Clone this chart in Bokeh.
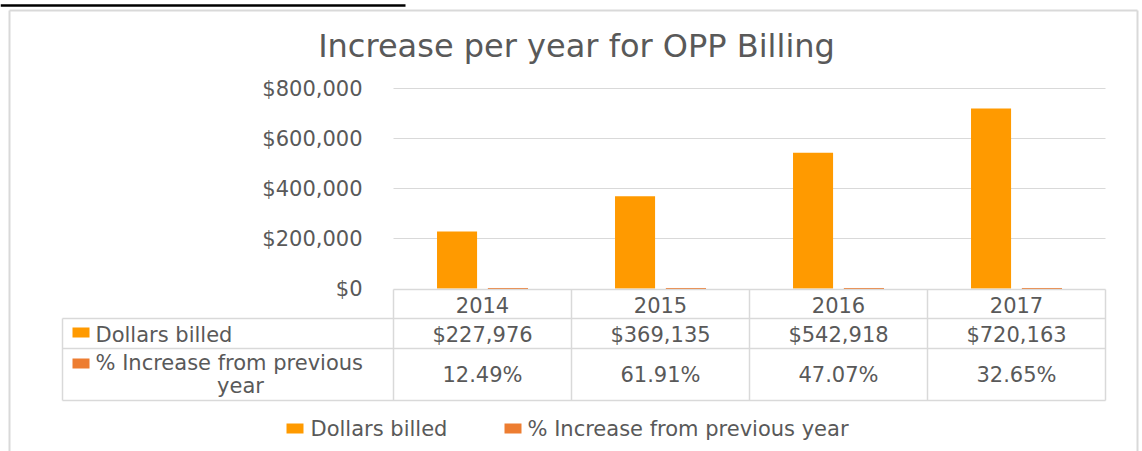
from bokeh.plotting import figure
from bokeh.models import Range1d
from bokeh.core.properties import value
from bokeh.embed import file_html
from bokeh.resources import INLINE

# ---------------- data ----------------
years = ["2014", "2015", "2016", "2017"]
dollars_billed = [227976, 369135, 542918, 720163]
pct_increase = [12.49, 61.91, 47.07, 32.65]
y_ticks = [0, 200000, 400000, 600000, 800000]
y_tick_labels = ["$0", "$200,000", "$400,000", "$600,000", "$800,000"]
series_names = ["Dollars billed", "% Increase from previous year"]
title_text = "Increase per year for OPP Billing"

# ---------------- styles ----------------
FONT = "DejaVu Sans"
TXT = "#595959"
LINE = "#D9D9D9"
C1 = "#FF9A00"
C2 = "#ED7D31"
FS = "21px"

W, H = 1142, 451
X0 = 393          # screen x of category axis start
CW = 178          # px per category
Y0 = 288          # screen y of $0
PXPERD = 1 / 4000  # px per dollar

p = figure(width=W, height=H,
           x_range=Range1d(-X0 / CW, (W - X0) / CW),
           y_range=Range1d(-(H - Y0) / PXPERD, Y0 / PXPERD),
           output_backend="svg", toolbar_location=None,
           x_axis_location=None, y_axis_location=None,
           min_border=0, outline_line_color=None,
           background_fill_color="white", border_fill_color="white")
p.grid.visible = False
p.extra_x_ranges = {"sx": Range1d(0, W)}
p.extra_y_ranges = {"sy": Range1d(H, 0)}

n = len(years)
centers = [i + 0.5 for i in range(n)]
cx_scr = [X0 + c * CW for c in centers]

def sc(x):
    return X0 + x * CW

# heading underline (cut-off document heading above the chart)
p.segment(x0=[0], x1=[405], y0=[5], y1=[5], line_color="black", line_width=2.5,
          x_range_name="sx", y_range_name="sy")

# chart border
p.multi_line(xs=[[9, 9], [9, 1137], [1137, 1137]],
             ys=[[H, 10], [10, 10], [10, H]],
             line_color=LINE, line_width=2,
             x_range_name="sx", y_range_name="sy")

# title
p.text(x=[576], y=[45], text=[title_text], text_font=value(FONT),
       text_font_size="32px", text_color=TXT, text_align="center",
       text_baseline="middle", x_range_name="sx", y_range_name="sy")

# gridlines
grid_ticks = [t for t in y_ticks if t > 0]
p.segment(x0=[0] * len(grid_ticks), x1=[n] * len(grid_ticks),
          y0=grid_ticks, y1=grid_ticks, line_color=LINE, line_width=1)

# y tick labels
p.text(x=[X0 - 31] * len(y_ticks), y=y_ticks, text=y_tick_labels,
       text_font=value(FONT), text_font_size=FS, text_color=TXT,
       text_align="right", text_baseline="middle", x_range_name="sx")

# bars
off = 0.143
bw = 0.225
p.vbar(x=[c - off for c in centers], top=dollars_billed, bottom=0, width=bw,
       fill_color=C1, line_color=None)
p.vbar(x=[c + off for c in centers], top=pct_increase, bottom=0, width=bw,
       fill_color=C2, line_color=C2, line_width=1)

# table lines (screen coordinates)
t_top, r1, r2, t_bot = 289, 318, 348, 400
t_left = 62
x_right = sc(n)
hx = [[sc(0), x_right], [t_left, x_right], [t_left, x_right], [t_left, x_right]]
hy = [[t_top, t_top], [r1, r1], [r2, r2], [t_bot, t_bot]]
vx = [[sc(i), sc(i)] for i in range(n + 1)] + [[t_left, t_left]]
vy = [[t_top, t_bot] for _ in range(n + 1)] + [[r1, t_bot]]
p.multi_line(xs=hx + vx, ys=hy + vy, line_color=LINE, line_width=1.5,
             x_range_name="sx", y_range_name="sy")

# header / values
p.text(x=cx_scr, y=[(t_top + r1) / 2 + 1] * n, text=years, text_font=value(FONT),
       text_font_size=FS, text_color=TXT, text_align="center",
       text_baseline="middle", x_range_name="sx", y_range_name="sy")
p.text(x=cx_scr, y=[(r1 + r2) / 2 + 1] * n, text=[f"${v:,}" for v in dollars_billed],
       text_font=value(FONT), text_font_size=FS, text_color=TXT,
       text_align="center", text_baseline="middle",
       x_range_name="sx", y_range_name="sy")
p.text(x=cx_scr, y=[(r2 + t_bot) / 2] * n, text=[f"{v:.2f}%" for v in pct_increase],
       text_font=value(FONT), text_font_size=FS, text_color=TXT,
       text_align="center", text_baseline="middle",
       x_range_name="sx", y_range_name="sy")

# row labels with keys
p.rect(x=[80.5, 80.5], y=[332, 363], width=17, height=10,
       fill_color=[C1, C2], line_color=None,
       x_range_name="sx", y_range_name="sy")
p.text(x=[95], y=[(r1 + r2) / 2 + 1], text=[series_names[0]],
       text_font=value(FONT), text_font_size=FS, text_color=TXT,
       text_align="left", text_baseline="middle",
       x_range_name="sx", y_range_name="sy")
words = series_names[1].split(" ")
p.text(x=[95], y=[362], text=[" ".join(words[:-1])],
       text_font=value(FONT), text_font_size=FS, text_color=TXT,
       text_align="left", text_baseline="middle",
       x_range_name="sx", y_range_name="sy")
p.text(x=[240], y=[385], text=[words[-1]],
       text_font=value(FONT), text_font_size=FS, text_color=TXT,
       text_align="center", text_baseline="middle",
       x_range_name="sx", y_range_name="sy")

# bottom legend
p.rect(x=[294.5, 512.5], y=[428, 428], width=17, height=10,
       fill_color=[C1, C2], line_color=None,
       x_range_name="sx", y_range_name="sy")
p.text(x=[310, 527], y=[428, 428], text=series_names,
       text_font=value(FONT), text_font_size=FS, text_color=TXT,
       text_align="left", text_baseline="middle",
       x_range_name="sx", y_range_name="sy")

open("out.html", "w").write(file_html(p, INLINE))
